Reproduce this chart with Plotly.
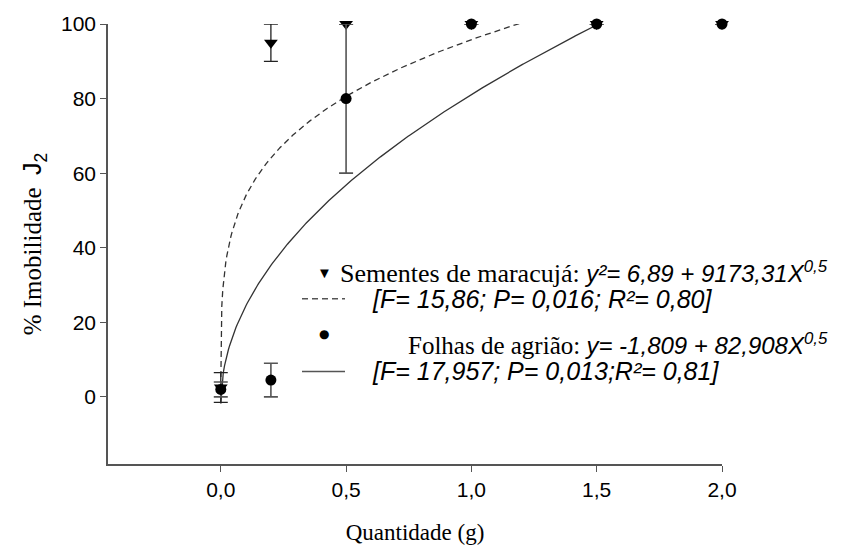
import numpy as np
import plotly.graph_objects as go

# ---- data ----
quantidade = [0.0, 0.2, 0.5, 1.0, 1.5, 2.0]
maracuja_y = [2.5, 95.0, 100.0, 100.0, 100.0, 100.0]
maracuja_err = [4.0, 5.0, 0.0, 0.0, 0.0, 0.0]
agriao_y = [2.0, 4.5, 80.0, 100.0, 100.0, 100.0]
agriao_err = [2.0, 4.5, 20.0, 0.0, 0.0, 0.0]

# regression coefficients (from the legend equations)
maracuja_coef = [6.89, 9173.31]      # y^2 = a + b*X^0.5
maracuja_xmax = 1.2
agriao_coef = [-1.809, 82.908]       # y = a + b*X^0.5
agriao_xmax = 1.5

x_ticks = [0.0, 0.5, 1.0, 1.5, 2.0]
x_ticktext = ["0,0", "0,5", "1,0", "1,5", "2,0"]
y_ticks = [0, 20, 40, 60, 80, 100]

# ---- fitted curves ----
xm = np.linspace(0, maracuja_xmax, 300)
ym = np.sqrt(maracuja_coef[0] + maracuja_coef[1] * np.sqrt(xm))
xa = np.linspace(0, agriao_xmax, 300)
ya = agriao_coef[0] + agriao_coef[1] * np.sqrt(xa)

fig = go.Figure()
fig.add_trace(go.Scatter(x=xm, y=ym, mode="lines",
                         line=dict(color="#333333", width=1.3, dash="6px,4px"),
                         hoverinfo="skip", cliponaxis=False))
fig.add_trace(go.Scatter(x=xa, y=ya, mode="lines",
                         line=dict(color="#333333", width=1.3),
                         hoverinfo="skip", cliponaxis=False))
fig.add_trace(go.Scatter(x=quantidade, y=maracuja_y, mode="markers",
                         marker=dict(symbol="triangle-down", size=12, color="black"),
                         error_y=dict(type="data", array=maracuja_err, visible=True,
                                      color="#222222", thickness=1.3, width=7),
                         cliponaxis=False))
fig.add_trace(go.Scatter(x=quantidade, y=agriao_y, mode="markers",
                         marker=dict(symbol="circle", size=11, color="black"),
                         error_y=dict(type="data", array=agriao_err, visible=True,
                                      color="#555555", thickness=1.6, width=7),
                         cliponaxis=False))

L, R, T, B = 108, 722, 22, 464
W, H = 845, 554

def px(x):
    return (x - L) / (R - L)

def py(y):
    return (B - y) / (B - T)

serif = "Liberation Serif, Times New Roman, serif"
sans = "Liberation Sans, Arial, sans-serif"

ann = []
def add_text(x, y, text, font=serif, size=25):
    ann.append(dict(x=px(x), y=py(y), xref="paper", yref="paper", text=text,
                    showarrow=False, xanchor="left", yanchor="middle",
                    font=dict(family=font, size=size, color="black")))

eq_style = "font-family:Liberation Sans, Arial, sans-serif;font-style:italic;font-size:24px"
add_text(338, 272, "Sementes de maracujá: <span style='" + eq_style +
         "'>y²= 6,89 + 9173,31X<sup>0,5</sup></span>", size=26)
add_text(370, 298, "<i>[F= 15,86; P= 0,016; R²= 0,80]</i>", font=sans, size=25)
add_text(406, 343, "Folhas de agrião: <span style='" + eq_style +
         "'>y= -1,809 + 82,908X<sup>0,5</sup></span>", size=25)
add_text(370, 371, "<i>[F= 17,957; P= 0,013;R²= 0,81]</i>", font=sans, size=25)
# legend symbols
ann.append(dict(x=px(324), y=py(272), xref="paper", yref="paper", text="▼",
                showarrow=False, font=dict(family=sans, size=15, color="black")))
ann.append(dict(x=px(324), y=py(342), xref="paper", yref="paper", text="●",
                showarrow=False, font=dict(family="DejaVu Sans", size=12, color="black")))

shapes = [
    dict(type="line", xref="paper", yref="paper", x0=px(302), x1=px(345),
         y0=py(298), y1=py(298), line=dict(color="#555555", width=1.3, dash="6px,4px")),
    dict(type="line", xref="paper", yref="paper", x0=px(302), x1=px(345),
         y0=py(371), y1=py(371), line=dict(color="#555555", width=1.5)),
]

fig.update_layout(
    width=W, height=H,
    margin=dict(l=L, r=W - R, t=T, b=H - B),
    plot_bgcolor="white", paper_bgcolor="white",
    showlegend=False,
    annotations=ann, shapes=shapes,
    xaxis=dict(range=[-0.45, 2.0], tickvals=x_ticks, ticktext=x_ticktext,
               showgrid=False, zeroline=False, showline=True,
               linecolor="#555555", linewidth=1.5,
               ticks="outside", ticklen=6, tickcolor="#555555", tickwidth=1,
               tickfont=dict(family=sans, size=21, color="black"),
               title=dict(text="Quantidade (g)", standoff=24,
                          font=dict(family=serif, size=23, color="black"))),
    yaxis=dict(range=[-18, 100], tickvals=y_ticks,
               showgrid=False, zeroline=False, showline=True,
               linecolor="#555555", linewidth=1.5,
               ticks="outside", ticklen=6, tickcolor="#555555", tickwidth=1,
               tickfont=dict(family=sans, size=21, color="black"),
               title=dict(text="% Imobilidade  <span style='font-family:Liberation Sans, Arial, sans-serif'>J<sub>2</sub></span>",
                          standoff=12,
                          font=dict(family=serif, size=25, color="black"))),
)

fig.write_html("out.html")
